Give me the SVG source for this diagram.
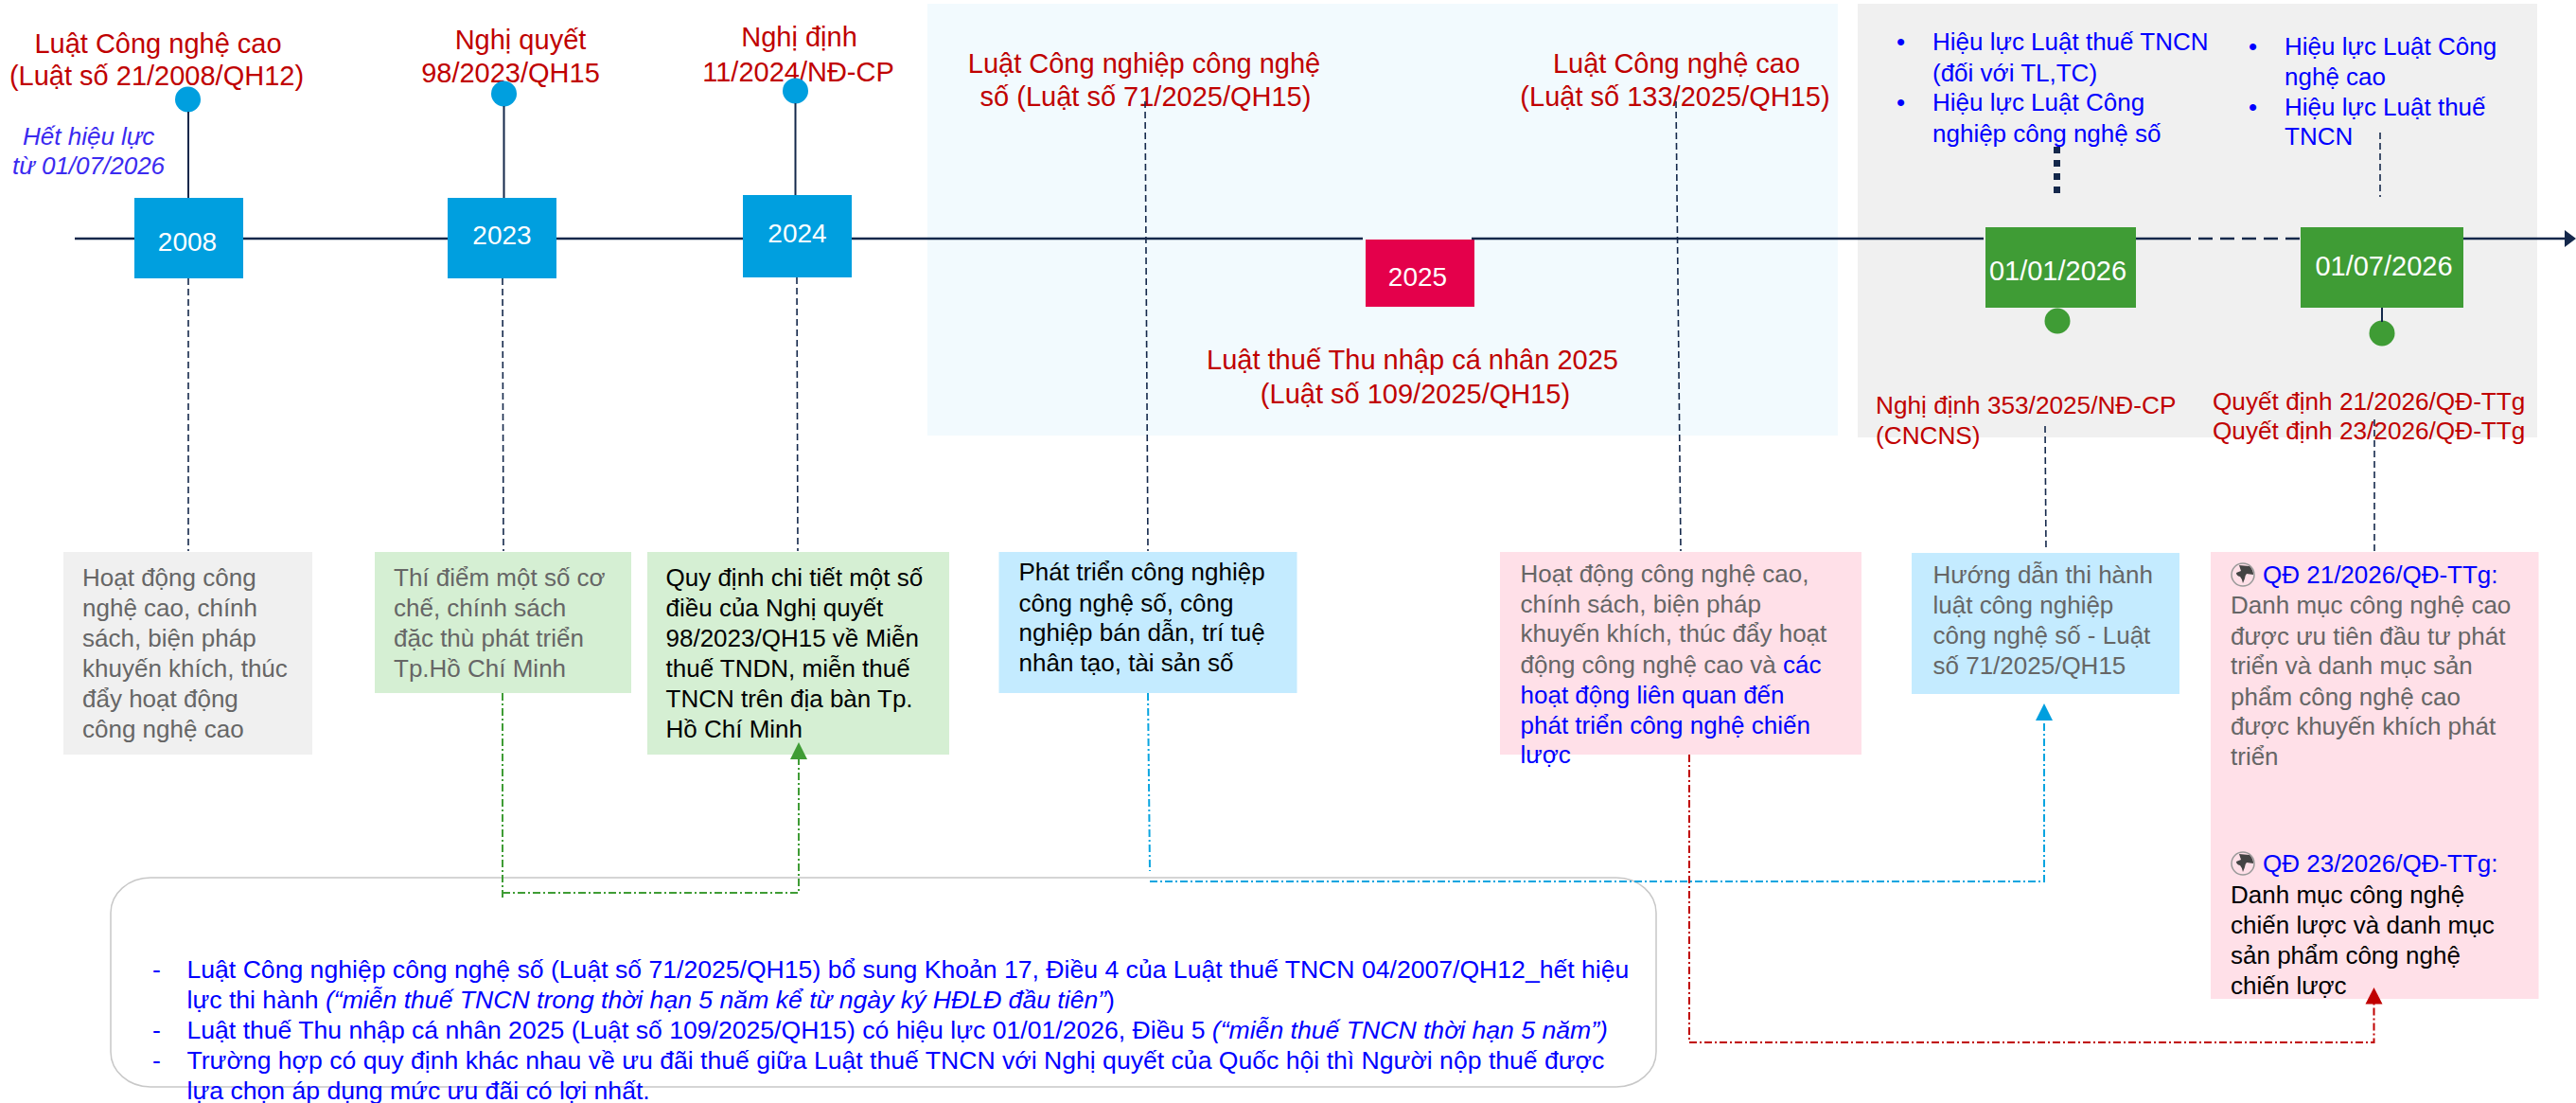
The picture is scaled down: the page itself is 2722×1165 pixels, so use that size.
<svg xmlns="http://www.w3.org/2000/svg" width="2722" height="1165" viewBox="0 0 2722 1165">
<style>
text{font-family:"Liberation Sans",Arial,sans-serif;font-size:26px}
.r{fill:#C00000;font-size:29px}
.rs{fill:#C00000;font-size:26.200px}
.m{text-anchor:middle}
.w{fill:#fff;font-size:28px;text-anchor:middle}
.wd{font-size:29px}
.b{fill:#0000FF}
.g{fill:#666666}
.k{fill:#000}
.i{font-style:italic}
.h{fill:#3B2BF0;font-style:italic}
.n{fill:#0000FF;font-size:26.600px}
.ax{stroke:#14284B;stroke-width:2.500;fill:none}
.st{stroke:#14284B;stroke-width:2;fill:none}
.d{stroke:#14284B;stroke-width:1.600;fill:none;stroke-dasharray:7 4}
.dd{stroke-width:2;fill:none;stroke-dasharray:8 3 2 3}
</style>
<defs>
<g id="globe">
<circle cx="13" cy="13" r="12" fill="none" stroke="#999" stroke-width="1.500"/>
<path d="M9 3L20 4Q24 8 24 13L17 12Q15 14 15 17L13 22Q12 17 10 15Q6 14 6 11L11 9Z" fill="#444"/>
</g>
</defs>
<rect width="2722" height="1165" fill="#fff"/>
<rect id="bg2025" x="980" y="4" width="962" height="456" fill="#F2FAFE"/>
<rect id="bg2026" x="1963" y="4" width="718" height="458" fill="#F0F0F0"/>
<rect id="note-box" x="117" y="927" width="1633" height="221" rx="42" ry="37" fill="none" stroke="#C8C8C8" stroke-width="1.500"/>

<g id="n2008"><rect x="142" y="209" width="115" height="85" fill="#009FDF"/><text class="w" x="198" y="265">2008</text>
<text class="r m" x="167" y="56">Luật Công nghệ cao</text><text class="r m" x="165.500" y="90">(Luật số 21/2008/QH12)</text>
<text class="h" x="24" y="153">Hết hiệu lực</text><text class="h" x="13" y="184">từ 01/07/2026</text><circle cx="198.500" cy="105" r="13.500" fill="#009FDF"/></g>

<g id="n2023"><rect x="473" y="209" width="115" height="85" fill="#009FDF"/><text class="w" x="530.500" y="258">2023</text>
<text class="r m" x="550" y="52">Nghị quyết</text><text class="r m" x="539.500" y="87">98/2023/QH15</text><circle cx="532.500" cy="99" r="13.500" fill="#009FDF"/></g>

<g id="n2024"><rect x="785" y="206" width="115" height="87" fill="#009FDF"/><text class="w" x="842.500" y="256">2024</text>
<text class="r m" x="844.500" y="49">Nghị định</text><text class="r m" x="843.500" y="86">11/2024/NĐ-CP</text><circle cx="840.500" cy="96" r="13.500" fill="#009FDF"/></g>

<g id="n2025"><rect x="1443" y="253" width="115" height="71" fill="#E4004B"/><text class="w" x="1498" y="302">2025</text>
<text class="r m" x="1209" y="77">Luật Công nghiệp công nghệ</text><text class="r m" x="1210.500" y="112">số (Luật số 71/2025/QH15)</text>
<text class="r m" x="1771.500" y="77">Luật Công nghệ cao</text><text class="r m" x="1770" y="112">(Luật số 133/2025/QH15)</text>
<text class="r m" x="1492.500" y="390">Luật thuế Thu nhập cá nhân 2025</text><text class="r m" x="1495.500" y="426">(Luật số 109/2025/QH15)</text></g>

<g id="n20260101"><rect x="2098" y="240" width="159" height="85" fill="#3F9C35"/><text class="w wd" x="2174.500" y="296">01/01/2026</text><circle cx="2174" cy="339" r="13.500" fill="#3F9C35"/>
<text class="b" x="2004" y="53">•</text><text class="b" x="2042" y="53">Hiệu lực Luật thuế TNCN</text><text class="b" x="2042" y="86">(đối với TL,TC)</text>
<text class="b" x="2004" y="117">•</text><text class="b" x="2042" y="117">Hiệu lực Luật Công</text><text class="b" x="2042" y="150">nghiệp công nghệ số</text>
<text class="rs" x="1982" y="437">Nghị định 353/2025/NĐ-CP</text><text class="rs" x="1982" y="469">(CNCNS)</text></g>

<g id="n20260701"><rect x="2431" y="240" width="172" height="85" fill="#3F9C35"/><text class="w wd" x="2519" y="291">01/07/2026</text><circle cx="2517" cy="352" r="13.500" fill="#3F9C35"/>
<text class="b" x="2376" y="58">•</text><text class="b" x="2414" y="58">Hiệu lực Luật Công</text><text class="b" x="2414" y="90">nghệ cao</text>
<text class="b" x="2376" y="122">•</text><text class="b" x="2414" y="122">Hiệu lực Luật thuế</text><text class="b" x="2414" y="153">TNCN</text>
<text class="rs" x="2338" y="433">Quyết định 21/2026/QĐ-TTg</text><text class="rs" x="2338" y="464">Quyết định 23/2026/QĐ-TTg</text></g>

<g id="box2008"><rect x="67" y="583" width="263" height="214" fill="#F0F0F0"/>
<text class="g" x="87" y="619">Hoạt động công</text><text class="g" x="87" y="651">nghệ cao, chính</text><text class="g" x="87" y="683">sách, biện pháp</text><text class="g" x="87" y="715">khuyến khích, thúc</text><text class="g" x="87" y="747">đẩy hoạt động</text><text class="g" x="87" y="779">công nghệ cao</text></g>

<g id="box2023"><rect x="396" y="583" width="271" height="149" fill="#D5EFD3"/>
<text class="g" x="416" y="619">Thí điểm một số cơ</text><text class="g" x="416" y="651">chế, chính sách</text><text class="g" x="416" y="683">đặc thù phát triển</text><text class="g" x="416" y="715">Tp.Hồ Chí Minh</text></g>

<g id="box2024"><rect x="684" y="583" width="319" height="214" fill="#D5EFD3"/>
<text class="k" x="703.500" y="619">Quy định chi tiết một số</text><text class="k" x="703.500" y="651">điều của Nghị quyết</text><text class="k" x="703.500" y="683">98/2023/QH15 về Miễn</text><text class="k" x="703.500" y="715">thuế TNDN, miễn thuế</text><text class="k" x="703.500" y="747">TNCN trên địa bàn Tp.</text><text class="k" x="703.500" y="779">Hồ Chí Minh</text></g>

<g id="box71"><rect x="1055.500" y="583" width="315" height="149" fill="#C4EBFF"/>
<text class="k" x="1076.500" y="613">Phát triển công nghiệp</text><text class="k" x="1076.500" y="646">công nghệ số, công</text><text class="k" x="1076.500" y="677">nghiệp bán dẫn, trí tuệ</text><text class="k" x="1076.500" y="709">nhân tạo, tài sản số</text></g>

<g id="box133"><rect x="1585" y="583" width="382" height="214" fill="#FFE0E8"/>
<text class="g" x="1606.500" y="615">Hoạt động công nghệ cao,</text><text class="g" x="1606.500" y="647">chính sách, biện pháp</text><text class="g" x="1606.500" y="678">khuyến khích, thúc đẩy hoạt</text><text class="g" x="1606.500" y="711">động công nghệ cao và <tspan class="b">các</tspan></text><text class="b" x="1606.500" y="743">hoạt động liên quan đến</text><text class="b" x="1606.500" y="775">phát triển công nghệ chiến</text><text class="b" x="1606.500" y="806">lược</text></g>

<g id="box353"><rect x="2020" y="584" width="283" height="149" fill="#C4EBFF"/>
<text class="g" x="2042.500" y="615.500">Hướng dẫn thi hành</text><text class="g" x="2042.500" y="648">luật công nghiệp</text><text class="g" x="2042.500" y="680">công nghệ số - Luật</text><text class="g" x="2042.500" y="711.500">số 71/2025/QH15</text></g>

<g id="boxqd"><rect x="2336" y="583" width="346.500" height="472" fill="#FFE0E8"/>
<use href="#globe" x="2357" y="594"/><text class="b" x="2391" y="615.500">QĐ 21/2026/QĐ-TTg:</text>
<text class="g" x="2357" y="648">Danh mục công nghệ cao</text><text class="g" x="2357" y="680.500">được ưu tiên đầu tư phát</text><text class="g" x="2357" y="712">triển và danh mục sản</text><text class="g" x="2357" y="744.500">phẩm công nghệ cao</text><text class="g" x="2357" y="776">được khuyến khích phát</text><text class="g" x="2357" y="808">triển</text>
<use href="#globe" x="2357" y="899"/><text class="b" x="2391" y="920.500">QĐ 23/2026/QĐ-TTg:</text>
<text class="k" x="2357" y="954">Danh mục công nghệ</text><text class="k" x="2357" y="986">chiến lược và danh mục</text><text class="k" x="2357" y="1018">sản phẩm công nghệ</text><text class="k" x="2357" y="1050">chiến lược</text></g>

<g id="note">
<text class="n" x="161" y="1033">-</text><text class="n" x="197.500" y="1033">Luật Công nghiệp công nghệ số (Luật số 71/2025/QH15) bổ sung Khoản 17, Điều 4 của Luật thuế TNCN 04/2007/QH12_hết hiệu</text>
<text class="n" x="197.500" y="1065">lực thi hành <tspan class="i">(“miễn thuế TNCN trong thời hạn 5 năm kể từ ngày ký HĐLĐ đầu tiên”</tspan>)</text>
<text class="n" x="161" y="1097">-</text><text class="n" x="197.500" y="1097">Luật thuế Thu nhập cá nhân 2025 (Luật số 109/2025/QH15) có hiệu lực 01/01/2026, Điều 5 <tspan class="i">(“miễn thuế TNCN thời hạn 5 năm”)</tspan></text>
<text class="n" x="161" y="1129">-</text><text class="n" x="197.500" y="1129">Trường hợp có quy định khác nhau về ưu đãi thuế giữa Luật thuế TNCN với Nghị quyết của Quốc hội thì Người nộp thuế được</text>
<text class="n" x="197.500" y="1161">lựa chọn áp dụng mức ưu đãi có lợi nhất.</text></g>

<g id="connectors">
<path class="ax" d="M79 252H142M257 252H473M588 252H785M900 252H1440M1555 252H2096M2257 252H2300M2603 252H2712"/>
<path class="ax" d="M2300 252H2431" stroke-dasharray="15 8"/>
<path d="M2710 243L2722 252L2710 261Z" fill="#14284B"/>
<path class="st" d="M199 118V209M532.500 112V209M840.500 109V206M2517 325V340"/>
<path class="d" d="M199 294V582M531 294L532 582M842 293L843 582M1210 107L1213 582M1771 107L1776 582M2161 450L2162 582M2509 443V582M2515 140V208"/>
<path d="M2173.500 155V205" stroke="#14284B" stroke-width="7" stroke-dasharray="7 7" fill="none"/>
<path class="dd" stroke="#3F9C35" d="M531 732V948M531 943H844V802"/>
<path d="M835 802L844 784L853 802Z" fill="#3F9C35"/>
<path class="dd" stroke="#0AA5E0" d="M1213 732L1215 920M1215 931H2160V761"/>
<path d="M2151 761L2160 743L2169 761Z" fill="#009FDF"/>
<path class="dd" stroke="#C00000" d="M1785 797V1101H2508.500V1060"/>
<path d="M2499.500 1060.500L2508.500 1043L2517.500 1060.500Z" fill="#C00000"/>
</g>
</svg>
